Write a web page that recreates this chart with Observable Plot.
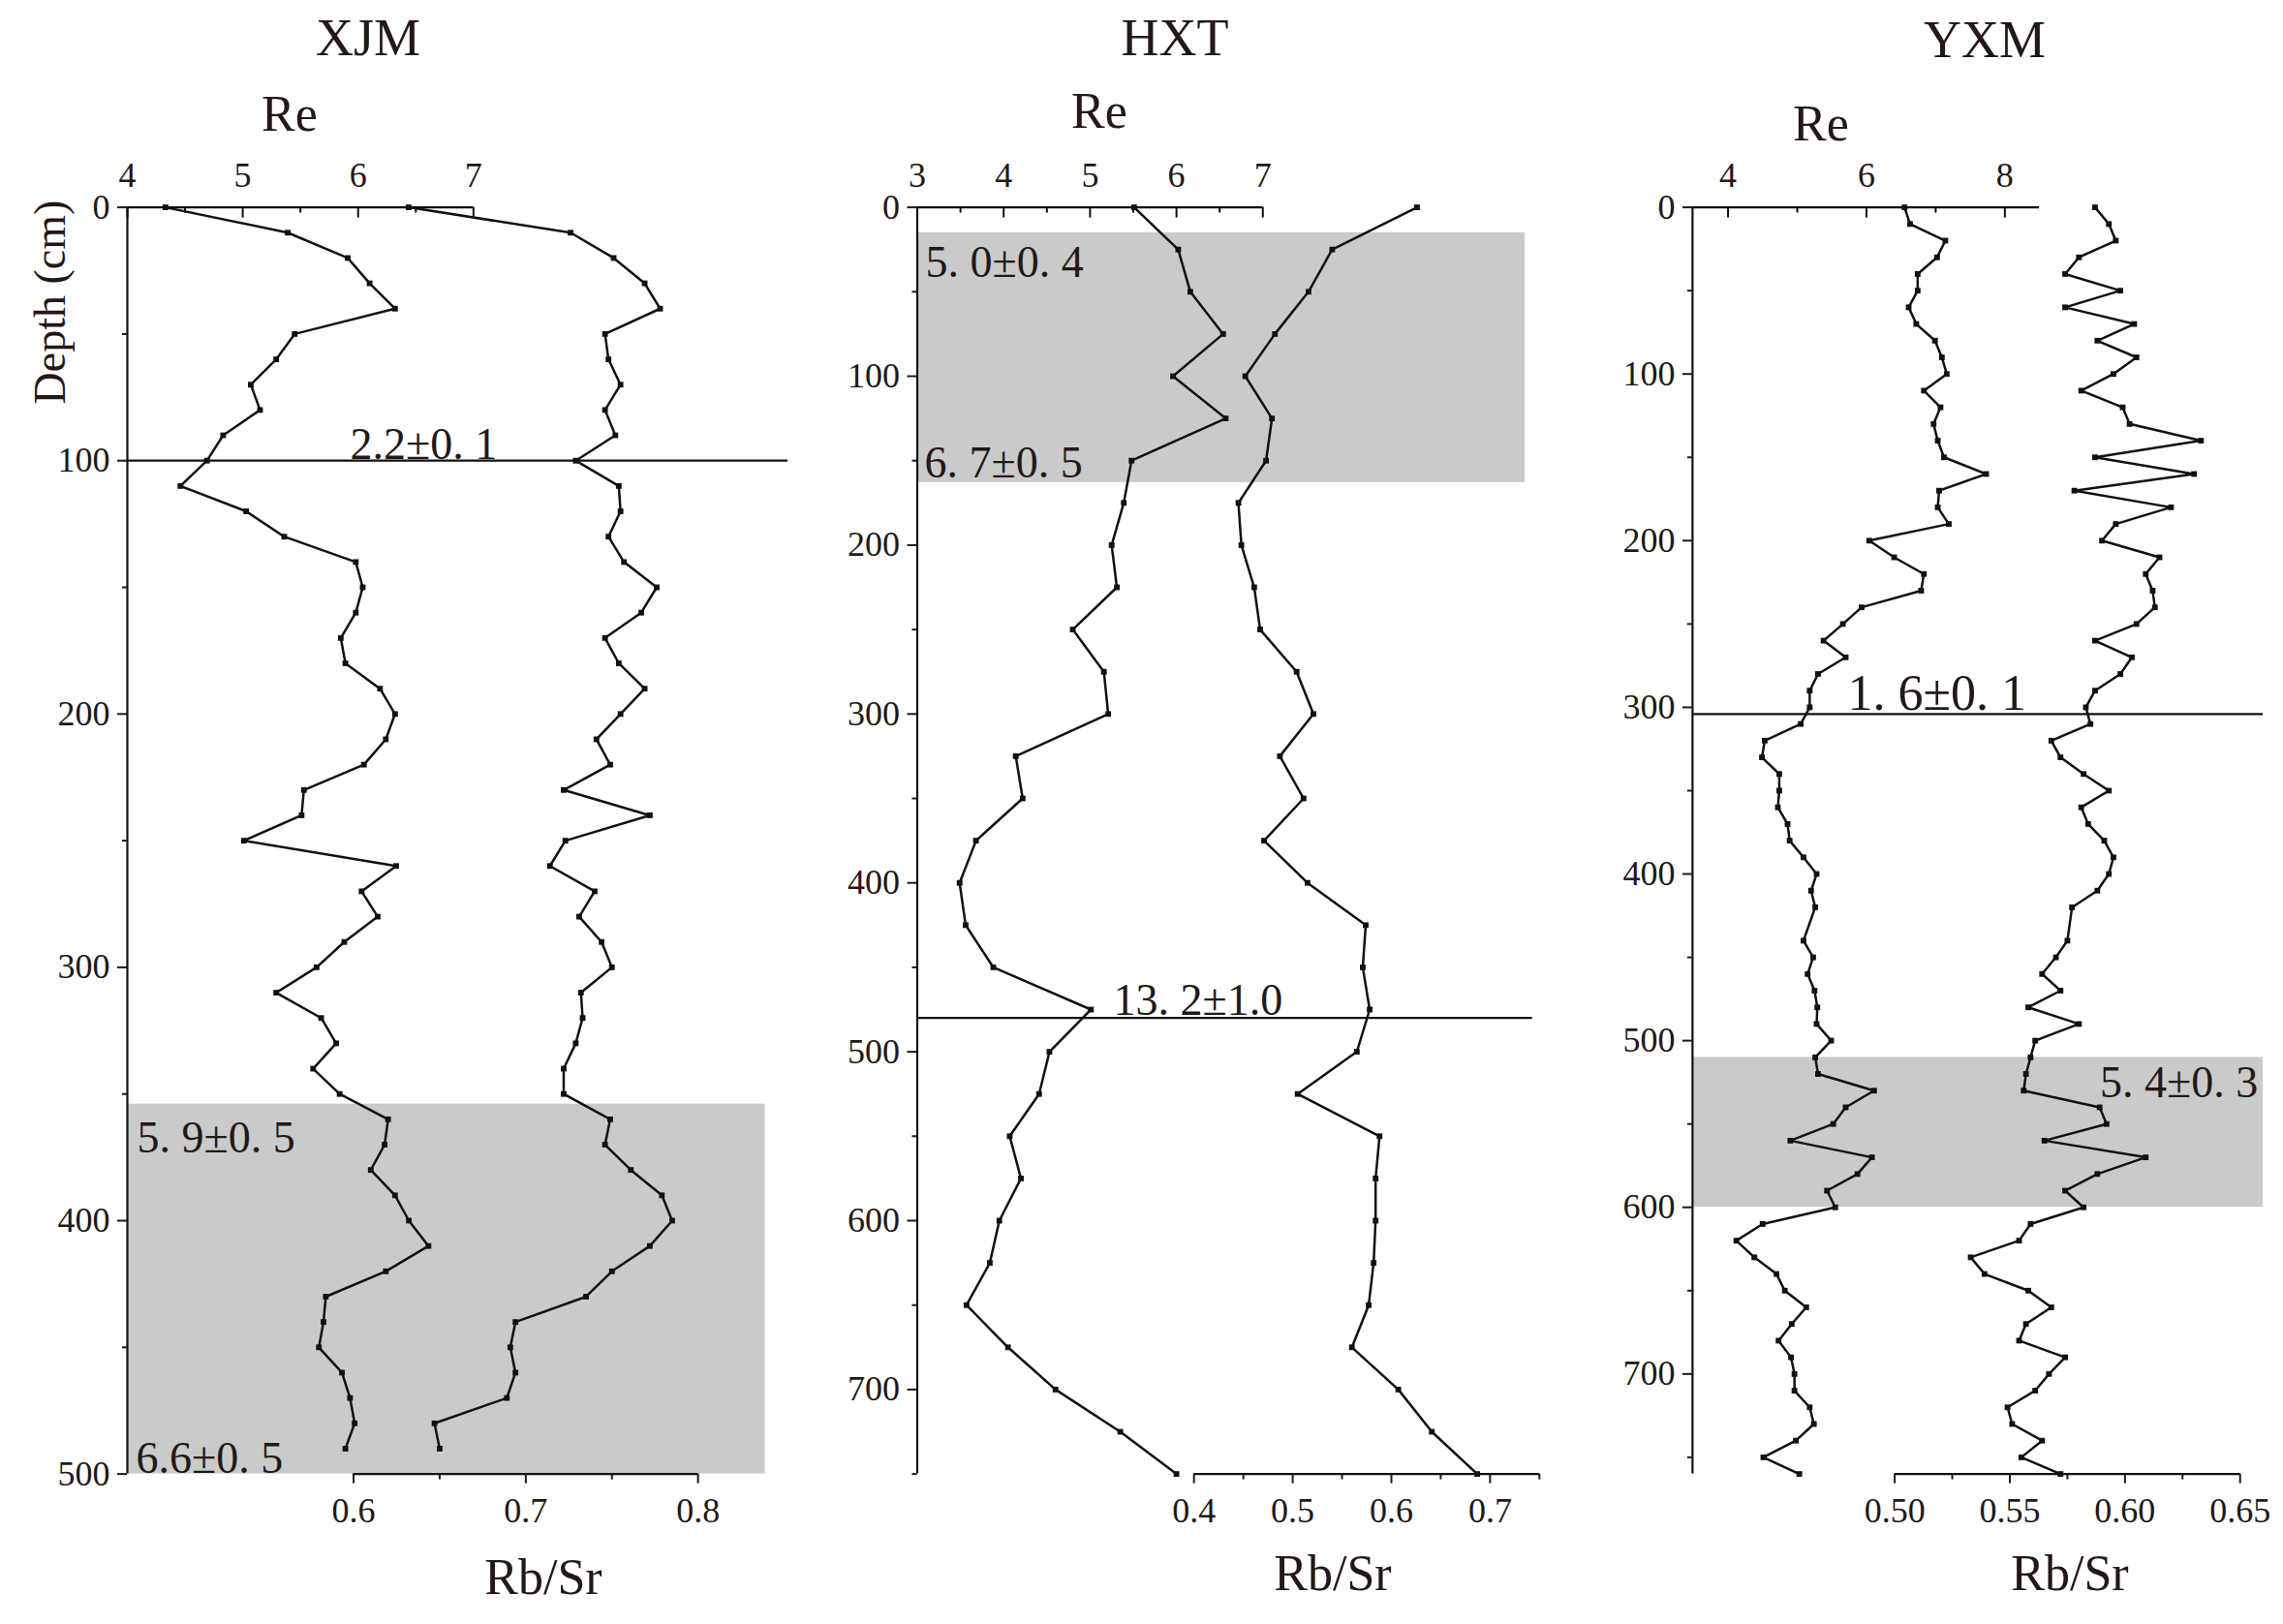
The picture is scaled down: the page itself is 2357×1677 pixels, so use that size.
<!DOCTYPE html>
<html><head><meta charset="utf-8">
<script src="https://cdn.jsdelivr.net/npm/d3@7"></script>
<script src="https://cdn.jsdelivr.net/npm/@observablehq/plot@0.6"></script>
<style>
html,body{margin:0;padding:0;background:#fff;overflow:hidden;}
#chart{position:relative;width:2357px;height:1677px;font-family:"Liberation Serif","Times New Roman",serif;color:#231815;}
#chart svg{position:absolute;left:0;top:0;font-family:"Liberation Serif","Times New Roman",serif !important;}
#chart svg text{font-family:"Liberation Serif","Times New Roman",serif;}
.lbl{position:absolute;white-space:nowrap;line-height:1;transform:translateX(-50%);}
</style></head><body><div id="chart"></div>
<script>
// ---------------- DATA ----------------
const xjmDepth = [0,10,20,30,40,50,60,70,80,90,100,110,120,130,140,150,160,170,180,190,200,210,220,230,240,250,260,270,280,290,300,310,320,330,340,350,360,370,380,390,400,410,420,430,440,450,460,470,480,490];
const xjmRe = [4.33,5.39,5.91,6.10,6.32,5.45,5.29,5.07,5.15,4.83,4.69,4.46,5.03,5.36,5.98,6.04,5.98,5.85,5.89,6.19,6.32,6.24,6.05,5.53,5.51,5.01,6.33,6.03,6.17,5.88,5.64,5.29,5.68,5.81,5.61,5.84,6.26,6.23,6.11,6.32,6.44,6.61,6.24,5.72,5.70,5.66,5.86,5.93,5.97,5.89];
const xjmRbSr = [0.632,0.726,0.751,0.769,0.778,0.746,0.748,0.755,0.746,0.752,0.729,0.754,0.755,0.748,0.757,0.776,0.767,0.746,0.754,0.769,0.755,0.741,0.749,0.722,0.772,0.723,0.714,0.740,0.731,0.744,0.750,0.732,0.733,0.729,0.722,0.722,0.749,0.746,0.761,0.779,0.785,0.772,0.750,0.735,0.694,0.691,0.694,0.689,0.647,0.650];

const hxtDepth = [0,25,50,75,100,125,150,175,200,225,250,275,300,325,350,375,400,425,450,475,500,525,550,575,600,625,650,675,700,725,750];
const hxtRe = [5.51,6.02,6.16,6.54,5.96,6.57,5.48,5.39,5.25,5.31,4.80,5.16,5.21,4.14,4.22,3.68,3.49,3.56,3.88,5.01,4.53,4.41,4.07,4.20,3.95,3.84,3.57,4.05,4.60,5.35,6.00];
const hxtRbSr = [0.626,0.540,0.516,0.482,0.452,0.479,0.473,0.445,0.448,0.461,0.467,0.504,0.521,0.487,0.511,0.471,0.515,0.574,0.571,0.578,0.565,0.505,0.588,0.584,0.584,0.582,0.577,0.560,0.607,0.641,0.687];

const yxmDepth = [0,10,20,30,40,50,60,70,80,90,100,110,120,130,140,150,160,170,180,190,200,210,220,230,240,250,260,270,280,290,300,310,320,330,340,350,360,370,380,390,400,410,420,440,450,460,470,480,490,500,510,520,530,540,550,560,570,580,590,600,610,620,630,640,650,660,670,680,690,700,710,720,730,740,750,760];
const yxmRe = [6.55,6.63,7.14,7.02,6.74,6.74,6.61,6.72,6.99,7.09,7.16,6.83,7.07,6.97,7.03,7.12,7.73,7.05,7.03,7.19,6.04,6.40,6.83,6.79,5.93,5.66,5.38,5.70,5.30,5.18,5.18,5.05,4.53,4.49,4.74,4.74,4.72,4.86,4.89,5.09,5.28,5.20,5.26,5.09,5.23,5.15,5.25,5.29,5.28,5.49,5.26,5.30,6.11,5.70,5.52,4.90,6.08,5.87,5.43,5.55,4.50,4.12,4.38,4.70,4.82,5.13,4.92,4.73,4.91,4.96,4.96,5.18,5.24,4.98,4.51,5.03];
const yxmRbSr = [0.587,0.593,0.596,0.580,0.574,0.598,0.574,0.604,0.588,0.605,0.595,0.581,0.599,0.602,0.633,0.587,0.630,0.578,0.620,0.596,0.590,0.615,0.609,0.612,0.613,0.605,0.587,0.603,0.598,0.587,0.583,0.585,0.568,0.572,0.582,0.593,0.581,0.584,0.591,0.595,0.593,0.588,0.577,0.575,0.570,0.564,0.572,0.558,0.580,0.561,0.559,0.557,0.556,0.589,0.592,0.565,0.609,0.588,0.574,0.582,0.559,0.554,0.533,0.539,0.558,0.568,0.557,0.554,0.574,0.567,0.561,0.549,0.551,0.564,0.555,0.572];

// tick values
const xjmReTicks = [4,5,6,7], xjmReMinor = [4.5,5.5,6.5];
const xjmRbTicks = [0.6,0.7,0.8], xjmRbMinor = [0.65,0.75];
const xjmDepthTicks = [0,100,200,300,400,500], xjmDepthMinor = [50,150,250,350,450];
const hxtReTicks = [3,4,5,6,7], hxtReMinor = [3.5,4.5,5.5,6.5];
const hxtRbTicks = [0.4,0.5,0.6,0.7], hxtRbMinor = [0.45,0.55,0.65,0.75];
const hxtDepthTicks = [0,100,200,300,400,500,600,700], hxtDepthMinor = [50,150,250,350,450,550,650,750];
const yxmReTicks = [4,6,8], yxmReMinor = [5,7];
const yxmRbTicks = [0.50,0.55,0.60,0.65], yxmRbMinor = [0.525,0.575,0.625];
const yxmDepthTicks = [0,100,200,300,400,500,600,700], yxmDepthMinor = [50,150,250,350,450,550,650,750];

// shaded intervals (depth) and dating lines
const xjmShades = [{top:354, bottom:500}];
const hxtShades = [{top:15, bottom:163}];
const yxmShades = [{top:510, bottom:600}];
const xjmLines = [100];
const hxtLines = [480];
const yxmLines = [304];

// annotations: text, depth (baseline), Rb/Sr position (left edge)
const xjmNotes = [{t:"2.2±0. 1", d:99.5, x:0.598},{t:"5. 9±0. 5", d:373, x:0.4743},{t:"6.6±0. 5", d:499.6, x:0.4738}];
const hxtNotes = [{t:"5. 0±0. 4", d:41.5, x:0.128},{t:"6. 7±0. 5", d:160, x:0.127},{t:"13. 2±1.0", d:478, x:0.3183}];
const yxmNotes = [{t:"1. 6±0. 1", d:301.5, x:0.4795, big:true},{t:"5. 4±0. 3", d:534, x:0.5891}];

// ---------------- LAYOUT ----------------
const W = 2357, H = 1677, TOP = 213.6, BOTTOM = 1521.6;
const INK = "#231815", FONT = "Liberation Serif";
const chart = document.getElementById("chart");

const panels = [
  {depth:xjmDepth, re:xjmRe, rb:xjmRbSr, left:131, right:813, dmax:500,
   reDom:[4, 9.726], rbDom:[0.4687, 0.8522], reLine:[4,7], rbLine:[0.6,0.8],
   reTicks:xjmReTicks, reMinor:xjmReMinor, rbTicks:xjmRbTicks, rbMinor:xjmRbMinor, rbFmt:d3.format(".1f"),
   dTicks:xjmDepthTicks, dMinor:xjmDepthMinor, shades:xjmShades, shadeRight:0.839, lines:xjmLines, notes:xjmNotes},
  {depth:hxtDepth, re:hxtRe, rb:hxtRbSr, left:946.5, right:1581.7, dmax:750,
   reDom:[3, 10.121], rbDom:[0.1196, 0.743], reLine:[3,7], rbLine:[0.4,0.75],
   reTicks:hxtReTicks, reMinor:hxtReMinor, rbTicks:hxtRbTicks, rbMinor:hxtRbMinor, rbFmt:d3.format(".1f"),
   dTicks:hxtDepthTicks, dMinor:hxtDepthMinor, shades:hxtShades, shadeRight:0.7355, lines:hxtLines, notes:hxtNotes},
  {depth:yxmDepth, re:yxmRe, rb:yxmRbSr, left:1746.9, right:2336, dmax:760,
   reDom:[3.487, 11.732], rbDom:[0.4122, 0.66], reLine:[3.487,8.5], rbLine:[0.5,0.65],
   reTicks:yxmReTicks, reMinor:yxmReMinor, rbTicks:yxmRbTicks, rbMinor:yxmRbMinor, rbFmt:d3.format(".2f"),
   dTicks:yxmDepthTicks, dMinor:yxmDepthMinor, shades:yxmShades, shadeRight:0.66, lines:yxmLines, notes:yxmNotes}
];

function base(p, xDom) {
  return {
    width: W, height: H,
    marginLeft: p.left, marginRight: W - p.right, marginTop: TOP, marginBottom: H - BOTTOM,
    style: "background:transparent;font-family:'Liberation Serif',serif;color:#231815;overflow:visible;max-width:none;",
    x: {domain: xDom, axis: null, label: null},
    y: {domain: [0, p.dmax], reverse: true, axis: null, label: null}
  };
}

for (const p of panels) {
  const rbData = p.depth.map((d, i) => ({depth: d, v: p.rb[i]}));
  const reData = p.depth.map((d, i) => ({depth: d, v: p.re[i]}));
  const plotH = BOTTOM - TOP;

  const rbPlot = Plot.plot({
    ...base(p, p.rbDom),
    marks: [
      Plot.rect(p.shades, {x1: () => p.rbDom[0], x2: () => p.shadeRight, y1: "top", y2: "bottom", fill: "#c9cbca"}),
      Plot.ruleY(p.lines, {x1: () => p.rbDom[0], x2: () => p.rbDom[1], stroke: "#111", strokeWidth: 2.2}),
      Plot.line(rbData, {x: "v", y: "depth", stroke: "#111", strokeWidth: 2.5}),
      Plot.dot(rbData, {x: "v", y: "depth", symbol: "square", r: 3.3, fill: "#111", stroke: "none"}),
      Plot.ruleY([p.dmax], {x1: () => p.rbLine[0], x2: () => p.rbLine[1], stroke: "#111", strokeWidth: 2.2}),
      Plot.axisX({anchor: "bottom", ticks: p.rbTicks, tickSize: 10, tickPadding: 14, fontSize: 36, fontFamily: FONT, strokeWidth: 2, tickFormat: p.rbFmt, label: null}),
      Plot.axisX({anchor: "bottom", ticks: p.rbMinor, tickSize: 6, strokeWidth: 2, tickFormat: () => "", label: null}),
      Plot.text(p.notes, {x: "x", y: "d", text: "t", textAnchor: "start", lineAnchor: "bottom", fontFamily: FONT,
        fontSize: d => d.big ? 52 : 46, fill: INK})
    ]
  });

  const rePlot = Plot.plot({
    ...base(p, p.reDom),
    marks: [
      Plot.ruleX([p.reDom[0]], {stroke: "#111", strokeWidth: 2.2}),
      Plot.ruleY([0], {x1: () => p.reLine[0], x2: () => p.reLine[1], stroke: "#111", strokeWidth: 2.2}),
      Plot.tickX(p.reTicks, {x: d => d, insetBottom: plotH - 11, stroke: "#111", strokeWidth: 2}),
      Plot.tickX(p.reMinor, {x: d => d, insetBottom: plotH - 6, stroke: "#111", strokeWidth: 2}),
      Plot.axisX({anchor: "top", ticks: p.reTicks, tickSize: 0, tickPadding: 21, fontSize: 36, fontFamily: FONT, tickFormat: d3.format("d"), label: null}),
      Plot.axisY({anchor: "left", ticks: p.dTicks, tickSize: 10, tickPadding: 8, fontSize: 36, fontFamily: FONT, strokeWidth: 2, tickFormat: d3.format("d"), label: null}),
      Plot.axisY({anchor: "left", ticks: p.dMinor, tickSize: 5, strokeWidth: 2, tickFormat: () => "", label: null}),
      Plot.line(reData, {x: "v", y: "depth", stroke: "#111", strokeWidth: 2.5}),
      Plot.dot(reData, {x: "v", y: "depth", symbol: "square", r: 3.3, fill: "#111", stroke: "none"})
    ]
  });
  chart.appendChild(rbPlot);
  chart.appendChild(rePlot);
}

// ---------------- TITLES ----------------
function label(text, cx, baseline, size, extra) {
  const d = document.createElement("div");
  d.className = "lbl";
  d.textContent = text;
  d.style.fontSize = size + "px";
  d.style.left = cx + "px";
  d.style.top = (baseline - 0.8375 * size) + "px";
  if (extra) Object.assign(d.style, extra);
  chart.appendChild(d);
}
const titles = ["XJM", "HXT", "YXM"];
label(titles[0], 380, 57, 54);
label(titles[1], 1213, 57, 54);
label(titles[2], 2049, 59, 54);
label("Re", 299, 136, 52);
label("Re", 1135, 133, 52);
label("Re", 1880, 146, 52);
label("Rb/Sr", 561, 1647, 52);
label("Rb/Sr", 1376, 1643, 52);
label("Rb/Sr", 2137, 1643, 52);
const dl = document.createElement("div");
dl.textContent = "Depth (cm)";
Object.assign(dl.style, {position: "absolute", left: "52px", top: "312px", fontSize: "46px", lineHeight: "1",
  whiteSpace: "nowrap", transform: "translate(-50%,-50%) rotate(-90deg)"});
chart.appendChild(dl);
</script></body></html>
